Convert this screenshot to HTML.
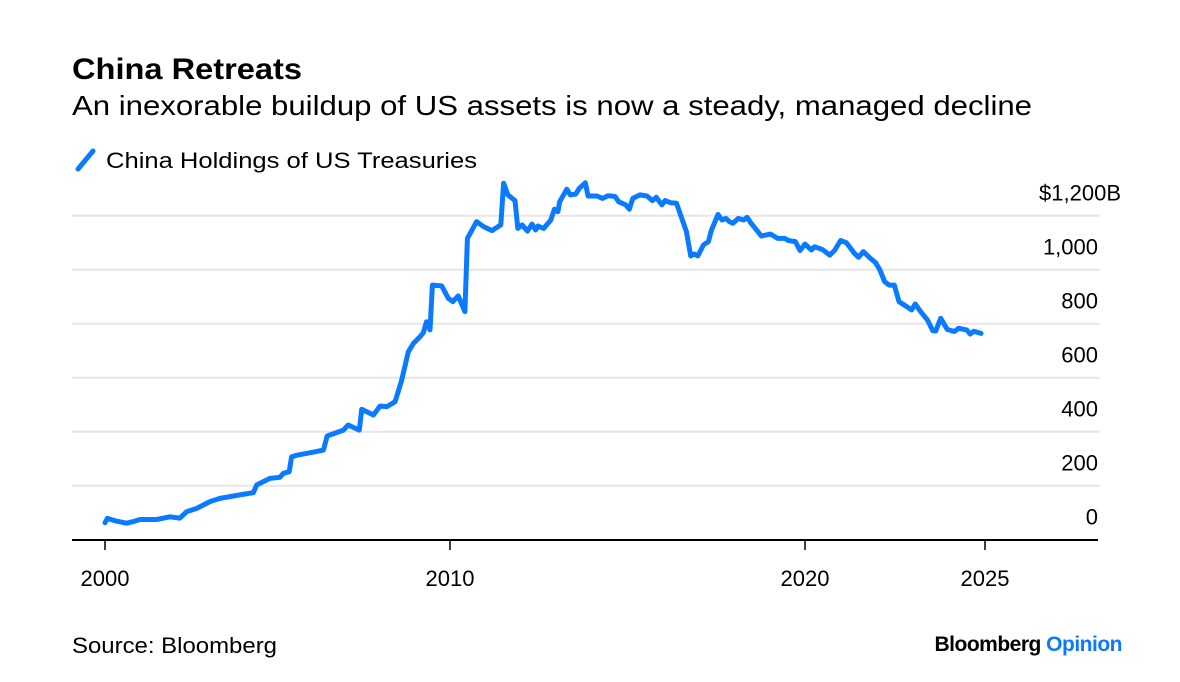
<!DOCTYPE html>
<html><head><meta charset="utf-8"><style>
html,body{margin:0;padding:0;background:#fff;}
svg{display:block;font-family:"Liberation Sans",sans-serif;}
</style></head><body>
<svg id="chart" width="1180" height="682" viewBox="0 0 1180 682">
<text x="72" y="79" font-size="30" font-weight="bold" fill="#000" textLength="230" lengthAdjust="spacingAndGlyphs">China Retreats</text>
<text x="72" y="115" font-size="28" fill="#000" textLength="960" lengthAdjust="spacingAndGlyphs">An inexorable buildup of US assets is now a steady, managed decline</text>
<g>
<line x1="78" y1="169" x2="93" y2="151" stroke="#0a7bff" stroke-width="5" stroke-linecap="round"/>
<text x="106" y="168" font-size="22" fill="#000" textLength="371" lengthAdjust="spacingAndGlyphs">China Holdings of US Treasuries</text>
</g>
<g id="grid"></g>
<g id="ylabels"></g>
<line x1="72" y1="540" x2="1098" y2="540" stroke="#000" stroke-width="2"/>
<g id="xticks"></g>
<path id="series" fill="none" stroke="#0a7bff" stroke-width="5" stroke-linejoin="round" stroke-linecap="round"/>
<text x="72" y="653" font-size="22" fill="#000" textLength="205" lengthAdjust="spacingAndGlyphs">Source: Bloomberg</text>
<text x="1122" y="651" font-size="21" font-weight="bold" text-anchor="end" letter-spacing="-0.5"><tspan fill="#000">Bloomberg </tspan><tspan fill="#0a7bff">Opinion</tspan></text>
</svg>
<script>
const years = [2000.0,2000.07,2000.29,2000.63,2000.82,2001.01,2001.50,2001.88,2002.17,2002.37,2002.66,2003.04,2003.33,2003.91,2004.30,2004.40,2004.78,2005.07,2005.17,2005.34,2005.41,2005.60,2005.94,2006.33,2006.44,2006.91,2007.05,2007.37,2007.44,2007.78,2007.97,2008.17,2008.41,2008.60,2008.79,2008.94,2009.13,2009.23,2009.32,2009.42,2009.49,2009.76,2009.95,2010.08,2010.23,2010.42,2010.49,2010.75,2010.94,2011.18,2011.43,2011.51,2011.63,2011.83,2011.91,2012.03,2012.18,2012.31,2012.41,2012.48,2012.64,2012.84,2012.94,2013.04,2013.09,2013.29,2013.39,2013.54,2013.64,2013.81,2013.89,2014.14,2014.30,2014.45,2014.65,2014.75,2014.95,2015.05,2015.15,2015.35,2015.55,2015.70,2015.81,2015.97,2016.06,2016.21,2016.38,2016.66,2016.78,2016.88,2016.98,2017.14,2017.28,2017.36,2017.55,2017.66,2017.77,2017.87,2017.97,2018.12,2018.27,2018.37,2018.47,2018.77,2019.03,2019.23,2019.43,2019.53,2019.73,2019.86,2020.0,2020.18,2020.26,2020.48,2020.69,2020.82,2020.99,2021.15,2021.37,2021.49,2021.62,2021.82,2021.96,2022.08,2022.21,2022.34,2022.48,2022.61,2022.76,2022.96,2023.06,2023.21,2023.40,2023.55,2023.63,2023.77,2023.95,2024.15,2024.27,2024.49,2024.59,2024.69,2024.89];
const holdings = [63,79,70,61,67,75,75,85,80,104,116,141,153,166,174,203,227,231,246,252,307,314,322,332,384,406,425,406,483,462,495,493,511,591,696,727,752,767,807,777,943,940,894,882,903,845,1116,1178,1160,1145,1166,1320,1277,1256,1153,1166,1143,1169,1147,1162,1153,1184,1224,1215,1252,1298,1277,1280,1301,1322,1273,1273,1264,1274,1271,1252,1240,1224,1264,1277,1273,1256,1268,1240,1256,1248,1246,1141,1051,1058,1051,1092,1104,1145,1205,1184,1190,1178,1172,1190,1184,1194,1174,1125,1132,1116,1116,1108,1104,1071,1095,1073,1085,1075,1054,1071,1108,1100,1061,1046,1067,1042,1026,999,956,943,943,882,869,851,873,845,814,774,773,820,779,771,783,777,762,772,764];
const yTicks = [0,200,400,600,800,1000,1200];
const yTickLabels = ["0","200","400","600","800","1,000","$1,200B"];
const xTicks = [2000,2010,2020,2025];
const xTickLabels = ["2000","2010","2020","2025"];

const NS = "http://www.w3.org/2000/svg";
const xAnchorsYear = [2000,2010,2020,2025,2027];
const xAnchorsPx = [105,450,805,985,1057];
function xScale(t){
  for(let i=0;i<xAnchorsYear.length-1;i++){
    if(t<=xAnchorsYear[i+1]||i===xAnchorsYear.length-2){
      const a=xAnchorsYear[i],b=xAnchorsYear[i+1];
      return xAnchorsPx[i]+(t-a)/(b-a)*(xAnchorsPx[i+1]-xAnchorsPx[i]);
    }
  }
}
function yScale(v){ return 539.7 - v*0.27; }

const grid=document.getElementById('grid'), yl=document.getElementById('ylabels'), xt=document.getElementById('xticks');
yTicks.forEach((v,i)=>{
  if(v>0){
    const l=document.createElementNS(NS,'line');
    l.setAttribute('x1',72);l.setAttribute('x2',1100);
    l.setAttribute('y1',yScale(v));l.setAttribute('y2',yScale(v));
    l.setAttribute('stroke','#e6e6e6');l.setAttribute('stroke-width',2);
    
    
    grid.appendChild(l);
  }
  const t=document.createElementNS(NS,'text');
  t.textContent=yTickLabels[i];
  t.setAttribute('x', v===1200?1121:1098);
  t.setAttribute('y',yScale(v)-15);
  t.setAttribute('text-anchor','end');
  t.setAttribute('font-size','22');
  
  
  yl.appendChild(t);
});
xTicks.forEach((yr,i)=>{
  const x=xScale(yr);
  const l=document.createElementNS(NS,'line');
  l.setAttribute('x1',x);l.setAttribute('x2',x);l.setAttribute('y1',540);l.setAttribute('y2',550);
  l.setAttribute('stroke','#000');l.setAttribute('stroke-width',1.5);
  
  
  xt.appendChild(l);
  const t=document.createElementNS(NS,'text');
  t.textContent=xTickLabels[i];
  t.setAttribute('x',x);t.setAttribute('y',586);
  t.setAttribute('text-anchor','middle');t.setAttribute('font-size','22');
  
  
  xt.appendChild(t);
});
let d='';
years.forEach((yr,i)=>{ d+=(i?'L':'M')+xScale(yr).toFixed(1)+','+yScale(holdings[i]).toFixed(1); });
document.getElementById('series').setAttribute('d',d);
</script>
</body></html>
